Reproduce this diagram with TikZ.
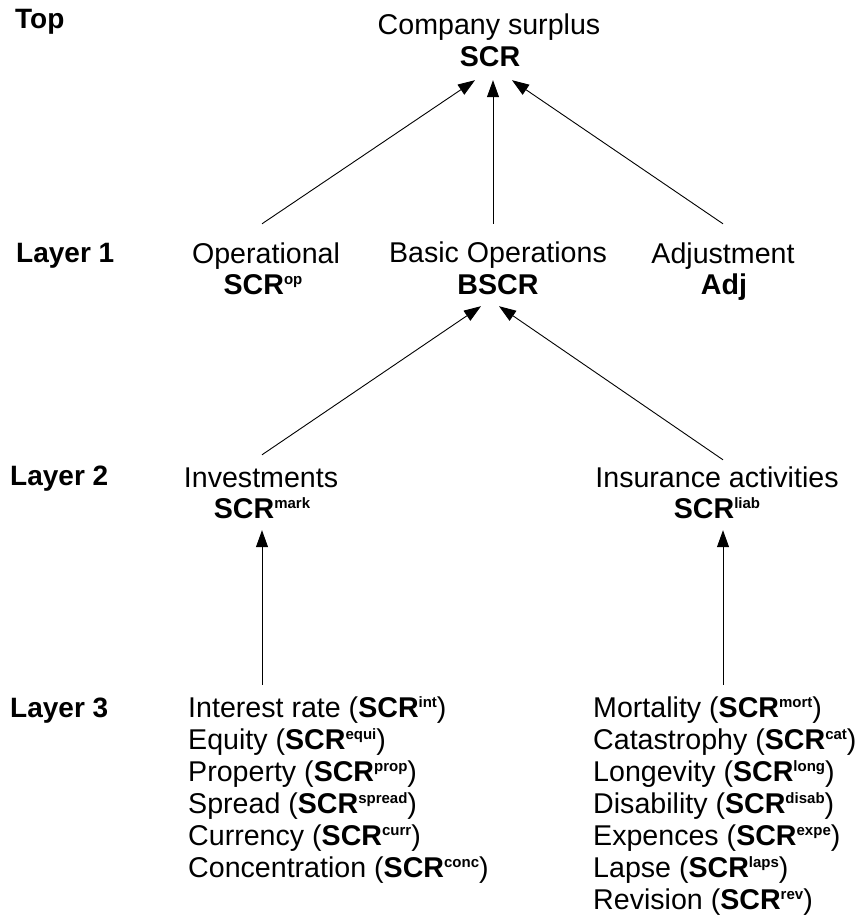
\documentclass[tikz,border=0pt]{standalone}
\usepackage{fontspec}
\setmainfont{Liberation Sans}
\usetikzlibrary{arrows.meta}
\newcommand{\SCRsup}[1]{\textbf{SCR}\raisebox{9.5pt}{\fontsize{15}{15}\selectfont\bfseries #1}}
\begin{document}
\begin{tikzpicture}[x=1pt,y=-1pt,
  txt/.style={inner sep=0pt, text height=21pt, text depth=7pt, font=\fontsize{28.6}{32}\selectfont},
  lbl/.style={txt, anchor=base west, font=\fontsize{28}{32}\selectfont\bfseries},
  ctr/.style={txt, anchor=base},
  item/.style={txt, anchor=base west},
  arr/.style={line width=0.9pt, -{Triangle[length=17pt,width=12pt]}}]
\useasboundingbox (0,0) rectangle (862,919);
% layer labels
\node[lbl] (ltop) at (15,28) {Top};
\node[lbl] (lone) at (16,262) {Layer 1};
\node[lbl] (ltwo) at (10,485) {Layer 2};
\node[lbl] (lthree) at (10,717) {Layer 3};
% top
\node[ctr] (cs) at (489,34) {Company surplus};
\node[ctr] (scr) at (490,66) {\textbf{SCR}};
% layer 1
\node[ctr] (op) at (266,263) {Operational};
\node[ctr] (opscr) at (263,294) {\SCRsup{op}};
\node[ctr] (bo) at (498,262) {Basic Operations};
\node[ctr] (bscr) at (498,294) {\textbf{BSCR}};
\node[ctr] (adj) at (723,263) {Adjustment};
\node[ctr] (adjv) at (724,294) {\textbf{Adj}};
% layer 2
\node[ctr] (inv) at (261,487) {Investments};
\node[ctr] (mark) at (262,518) {\SCRsup{mark}};
\node[ctr] (ins) at (717,487) {Insurance activities};
\node[ctr] (liab) at (717,518) {\SCRsup{liab}};
% layer 3 left
\node[item] (li1) at (188,717) {Interest rate (\SCRsup{int})};
\node[item] (li2) at (188,749) {Equity (\SCRsup{equi})};
\node[item] (li3) at (188,781) {Property (\SCRsup{prop})};
\node[item] (li4) at (188,813) {Spread (\SCRsup{spread})};
\node[item] (li5) at (188,845) {Currency (\SCRsup{curr})};
\node[item] (li6) at (188,877) {Concentration (\SCRsup{conc})};
% layer 3 right
\node[item] (lr1) at (593,717) {Mortality (\SCRsup{mort})};
\node[item] (lr2) at (593,749) {Catastrophy (\SCRsup{cat})};
\node[item] (lr3) at (593,781) {Longevity (\SCRsup{long})};
\node[item] (lr4) at (593,813) {Disability (\SCRsup{disab})};
\node[item] (lr5) at (593,845) {Expences (\SCRsup{expe})};
\node[item] (lr6) at (593,877) {Lapse (\SCRsup{laps})};
\node[item] (lr7) at (593,909) {Revision (\SCRsup{rev})};
% helper coordinates
\coordinate (la) at (li1.north -| mark.south);
\coordinate (ra) at (lr1.north -| liab.south);
% arrows
\draw[arr] ([xshift=-4pt,yshift=18pt]op.north) -- ([xshift=-15pt,yshift=-7pt]scr.south);
\draw[arr] ([xshift=-5pt,yshift=17pt]bo.north) -- ([xshift=3pt,yshift=-7pt]scr.south);
\draw[arr] ([yshift=18pt]adj.north) -- ([xshift=22pt,yshift=-7pt]scr.south);
\draw[arr] ([xshift=1pt,yshift=11pt]inv.north) -- ([xshift=-17pt,yshift=-5pt]bscr.south);
\draw[arr] ([xshift=6pt,yshift=6pt]ins.north) -- ([xshift=1pt,yshift=-5pt]bscr.south);
\draw[arr] ([yshift=11pt]la) -- ([yshift=-5pt]mark.south);
\draw[arr] ([xshift=6pt,yshift=11pt]ra) -- ([xshift=6pt,yshift=-5pt]liab.south);
\end{tikzpicture}
\end{document}
